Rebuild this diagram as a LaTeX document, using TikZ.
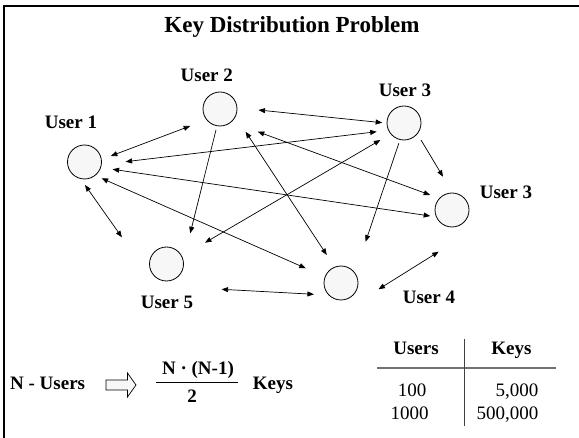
\documentclass[tikz,border=0pt]{standalone}
\usepackage{fontspec}
\setmainfont{Liberation Serif}
\usetikzlibrary{arrows.meta,calc}
\begin{document}
\begin{tikzpicture}[x=1pt,y=-1pt,
  user/.style={circle,draw,line width=0.8pt,fill=black!3,minimum size=34pt,inner sep=0pt},
  lbl/.style={font=\fontsize{19}{22}\selectfont\bfseries,inner sep=0pt,anchor=base},
  plain/.style={font=\fontsize{19}{22}\selectfont,inner sep=0pt,anchor=base},
  tip/.tip={Triangle[length=6.5pt,width=5pt]},
  link/.style={line width=0.7pt,tip-tip},
  oneway/.style={line width=0.7pt,-tip},
]
\useasboundingbox (0,0) rectangle (579,438);

% frame edges
\draw[line width=2.6pt] (4,438) -- (4,6) -- (579,6);

% title
\node[font=\fontsize{23}{26}\selectfont\bfseries,inner sep=0pt,anchor=base] (title) at (292,32.7) {Key Distribution Problem};

% users
\node[user] (u1) at (84.5,162) {};
\node[user] (u2) at (220,109) {};
\node[user] (u3) at (404,123) {};
\node[user] (u3b) at (452,210) {};
\node[user] (u5) at (166.5,264) {};
\node[user] (u4) at (341,283) {};

\node[lbl] (l1) at (71,128.3) {User 1};
\node[lbl] (l2) at (206.8,81.7) {User 2};
\node[lbl] (l3) at (405,96.7) {User 3};
\node[lbl] (l3b) at (506,198.3) {User 3};
\node[lbl] (l5) at (167,308.3) {User 5};
\node[lbl] (l4) at (429,303.3) {User 4};

% key exchanges
\draw[link] ([shift={(38.5,1)}]u2.center) -- ([shift={(-21.8,-0.3)}]u3.center);
\draw[link] ([shift={(26.3,-6)}]u1.center) -- ([shift={(-29.8,17)}]u2.center);
\draw[link] ([shift={(41.1,-0.3)}]u1.center) -- ([shift={(-27.3,8.7)}]u3.center);
\draw[link] ([shift={(37.8,22.7)}]u2.center) -- ([shift={(-21.8,-15)}]u3b.center);
\draw[link] ([shift={(28.1,7.3)}]u1.center) -- ([shift={(-21.8,6)}]u3b.center);
\draw[oneway] ([shift={(17,17)}]u3.center) -- ([shift={(-9,-33.3)}]u3b.center);
\draw[oneway] ([shift={(-4,21)}]u2.center) -- ([shift={(23.7,-30.7)}]u5.center);
\draw[link] ([shift={(25.6,22.7)}]u2.center) -- ([shift={(-14.2,-28)}]u4.center);
\draw[link] ([shift={(17.1,16.3)}]u1.center) -- ([shift={(-35.2,-14.7)}]u4.center);
\draw[link] ([shift={(-23.6,17)}]u3.center) -- ([shift={(38.5,-21.3)}]u5.center);
\draw[oneway] ([shift={(-5.2,20.3)}]u3.center) -- ([shift={(24.6,-41.3)}]u4.center);
\draw[link] ([shift={(0.5,23)}]u1.center) -- ([shift={(-44.6,-26.7)}]u5.center);
\draw[link] ([shift={(55.1,25.3)}]u5.center) -- ([shift={(-27.1,11.3)}]u4.center);
\draw[link] ([shift={(37.5,6.3)}]u4.center) -- ([shift={(-13.3,41.7)}]u3b.center);

% formula
\node[lbl,anchor=base west] (nusers) at (10,390) {N - Users};
\draw[line width=0.7pt,fill=black!3] (106,380) -- (127.5,380) -- (127.5,373) -- (136,385)
  -- (127.5,397) -- (127.5,390) -- (106,390) -- cycle;
\node[lbl] (numer) at (198,375) {N · (N-1)};
\node[lbl] (denom) at (192,403) {2};
\coordinate (barl) at (156,382);
\coordinate (barr) at (238,382);
\draw[line width=0.9pt] (barl) -- (barr);
\node[lbl] (keys) at (273,390) {Keys};

% table
\node[lbl] (hu) at (416,355) {Users};
\node[lbl] (hk) at (511.5,355) {Keys};
\coordinate (rl) at (377,368);
\coordinate (rr) at (556,368);
\draw[line width=1.6pt,black!55] (rl) -- (rr);
\coordinate (vt) at (464.5,339);
\coordinate (vb) at (464.5,426);
\draw[line width=0.8pt,black!75] (vt) -- (vb);
\node[plain] (a1) at (412,396.7) {100};
\node[plain] (a2) at (409.5,420) {1000};
\node[plain,anchor=base east] (b1) at (538.5,396.7) {5,000};
\node[plain,anchor=base east] (b2) at (538.5,420) {500,000};
\end{tikzpicture}
\end{document}
